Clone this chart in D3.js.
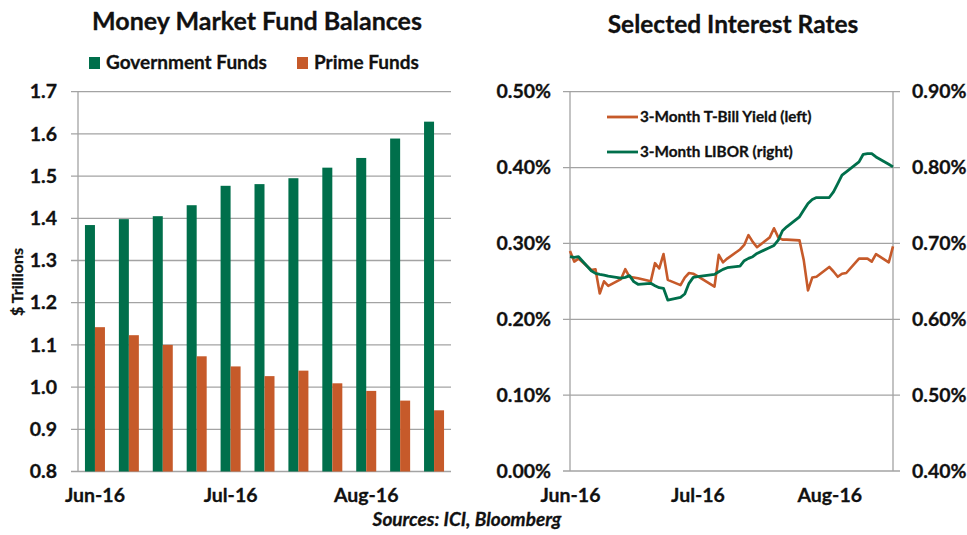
<!DOCTYPE html>
<html>
<head>
<meta charset="utf-8">
<script src="https://cdn.jsdelivr.net/npm/d3@7"></script>
<style>
  body { margin: 0; background: #fff; }
  text { font-family: Lato, "Liberation Sans", sans-serif; font-weight: bold; fill: #111; stroke: #111; stroke-width: 0.3px; }
</style>
</head>
<body>
<svg width="967" height="535"></svg>
<script>
// left chart: weekly fund balances, $ trillions
var weeks = ["w1", "w2", "w3", "w4", "w5", "w6", "w7", "w8", "w9", "w10", "w11"];
var weekLabels = { "w1": "Jun-16", "w5": "Jul-16", "w9": "Aug-16" };
var govFunds = [1.384, 1.398, 1.405, 1.431, 1.477, 1.481, 1.495, 1.520, 1.543, 1.589, 1.629];
var primeFunds = [1.142, 1.123, 1.100, 1.073, 1.049, 1.026, 1.039, 1.009, 0.991, 0.968, 0.945];
var balanceTicks = [0.8, 0.9, 1.0, 1.1, 1.2, 1.3, 1.4, 1.5, 1.6, 1.7];

// right chart: daily rates, percent
var rateDates = ["2016-06-01", "2016-06-02", "2016-06-03", "2016-06-06", "2016-06-07", "2016-06-08",
  "2016-06-09", "2016-06-10", "2016-06-13", "2016-06-14", "2016-06-15", "2016-06-16", "2016-06-17",
  "2016-06-20", "2016-06-21", "2016-06-22", "2016-06-23", "2016-06-24", "2016-06-27", "2016-06-28",
  "2016-06-29", "2016-06-30", "2016-07-01", "2016-07-05", "2016-07-06", "2016-07-07", "2016-07-08",
  "2016-07-11", "2016-07-12", "2016-07-13", "2016-07-14", "2016-07-15", "2016-07-18", "2016-07-19",
  "2016-07-20", "2016-07-21", "2016-07-22", "2016-07-25", "2016-07-26", "2016-07-27", "2016-07-28",
  "2016-07-29", "2016-08-01", "2016-08-02", "2016-08-03", "2016-08-04", "2016-08-05", "2016-08-08",
  "2016-08-09", "2016-08-10", "2016-08-11", "2016-08-12", "2016-08-15", "2016-08-16"];
var tbill = [0.290, 0.276, 0.280, 0.265, 0.266, 0.234, 0.250, 0.244, 0.253, 0.266, 0.256, 0.255, 0.254,
  0.250, 0.274, 0.267, 0.286, 0.252, 0.245, 0.255, 0.261, 0.260, 0.257, 0.243, 0.285, 0.275, 0.280,
  0.292, 0.298, 0.311, 0.302, 0.295, 0.308, 0.320, 0.308, 0.305, 0.305, 0.304, 0.278, 0.238, 0.255,
  0.256, 0.269, 0.263, 0.256, 0.260, 0.261, 0.280, 0.280, 0.280, 0.276, 0.286, 0.275, 0.296];
var libor = [0.6825, 0.6816, 0.6825, 0.6640, 0.6605, 0.6592, 0.6583, 0.6570, 0.6544, 0.6553, 0.6575,
  0.6496, 0.6461, 0.6474, 0.6443, 0.6417, 0.6408, 0.6254, 0.6289, 0.6333, 0.6474, 0.6553, 0.6561,
  0.6592, 0.6627, 0.6658, 0.6680, 0.6702, 0.6772, 0.6803, 0.6825, 0.6868, 0.6947, 0.6974, 0.7044,
  0.7167, 0.7219, 0.7351, 0.7439, 0.7526, 0.7579, 0.7605, 0.7605, 0.7680, 0.7789, 0.7899, 0.7943,
  0.8075, 0.8175, 0.8184, 0.8184, 0.8140, 0.8044, 0.8009];
var leftRateTicks = [0, 0.1, 0.2, 0.3, 0.4, 0.5];
var rightRateTicks = [0.4, 0.5, 0.6, 0.7, 0.8, 0.9];
var dateTicks = ["2016-06-01", "2016-07-01", "2016-08-01"];

var green = "#006f4b",
  orange = "#c65a2a",
  gridColor = "#a3a3a3",
  tickFont = "19.5px";

var svg = d3.select("svg");

// ---------- Money Market Fund Balances ----------
var m1 = { left: 78, right: 451, top: 91.7, bottom: 471.5 };

var x0 = d3.scaleBand().domain(weeks).range([m1.left, m1.right]).padding(0);
var yb = d3.scaleLinear().domain([0.8, 1.7]).range([m1.bottom, m1.top]);

var g1 = svg.append("g");

g1.selectAll(".grid")
  .data(balanceTicks)
  .enter().append("line")
  .attr("x1", m1.left - 7)
  .attr("x2", m1.right)
  .attr("y1", function(d) { return yb(d); })
  .attr("y2", function(d) { return yb(d); })
  .attr("stroke", gridColor)
  .attr("stroke-width", 1.3);

g1.append("line")
  .attr("x1", m1.left).attr("x2", m1.left)
  .attr("y1", m1.top).attr("y2", m1.bottom)
  .attr("stroke", gridColor)
  .attr("stroke-width", 1.3);

g1.append("g")
  .attr("transform", "translate(" + (m1.left - 21) + ",0)")
  .call(d3.axisLeft(yb).tickValues(balanceTicks).tickFormat(d3.format(".1f")).tickSize(0))
  .call(function(a) { a.select(".domain").remove(); })
  .selectAll("text")
  .attr("x", 0)
  .style("font-size", tickFont)
  .style("font-family", "Lato, sans-serif");

var barW = 10;
var bars = g1.selectAll(".week")
  .data(weeks)
  .enter().append("g");

bars.append("rect")
  .attr("x", function(d) { return x0(d) + x0.bandwidth() / 2 - barW; })
  .attr("width", barW)
  .attr("y", function(d, i) { return yb(govFunds[i]); })
  .attr("height", function(d, i) { return yb(0.8) - yb(govFunds[i]); })
  .attr("fill", green);

bars.append("rect")
  .attr("x", function(d) { return x0(d) + x0.bandwidth() / 2; })
  .attr("width", barW)
  .attr("y", function(d, i) { return yb(primeFunds[i]); })
  .attr("height", function(d, i) { return yb(0.8) - yb(primeFunds[i]); })
  .attr("fill", orange);

g1.append("g")
  .attr("transform", "translate(0," + (m1.bottom + 14) + ")")
  .call(d3.axisBottom(x0).tickValues(Object.keys(weekLabels)).tickFormat(function(d) { return weekLabels[d]; }).tickSize(0))
  .call(function(a) { a.select(".domain").remove(); })
  .selectAll("text")
  .style("font-size", tickFont)
  .style("font-family", "Lato, sans-serif");

g1.append("text")
  .attr("transform", "translate(23,282) rotate(-90)")
  .attr("text-anchor", "middle")
  .style("font-size", "16px")
  .text("$ Trillions");

g1.append("text")
  .attr("x", 257).attr("y", 30)
  .attr("text-anchor", "middle")
  .style("font-size", "25px")
  .text("Money Market Fund Balances");

var legend1 = [{ name: "Government Funds", color: green, x: 89 }, { name: "Prime Funds", color: orange, x: 297 }];
var lg1 = g1.selectAll(".legend").data(legend1).enter().append("g");
lg1.append("rect")
  .attr("x", function(d) { return d.x; })
  .attr("y", 57).attr("width", 11).attr("height", 12)
  .attr("fill", function(d) { return d.color; });
lg1.append("text")
  .attr("x", function(d) { return d.x + 17; })
  .attr("y", 69)
  .style("font-size", "19px")
  .text(function(d) { return d.name; });

// ---------- Selected Interest Rates ----------
var m2 = { left: 570, right: 893, top: 91.7, bottom: 471 };
var parse = d3.timeParse("%Y-%m-%d");

var xt = d3.scaleTime().domain([parse("2016-06-01"), parse("2016-08-16")]).range([m2.left, m2.right]);
var yl = d3.scaleLinear().domain([0, 0.5]).range([m2.bottom, m2.top]);
var yr = d3.scaleLinear().domain([0.4, 0.9]).range([m2.bottom, m2.top]);

var g2 = svg.append("g");

g2.selectAll(".grid")
  .data(leftRateTicks)
  .enter().append("line")
  .attr("x1", m2.left - 7)
  .attr("x2", m2.right + 7)
  .attr("y1", function(d) { return yl(d); })
  .attr("y2", function(d) { return yl(d); })
  .attr("stroke", gridColor)
  .attr("stroke-width", 1.3);

[m2.left, m2.right].forEach(function(px) {
  g2.append("line")
    .attr("x1", px).attr("x2", px)
    .attr("y1", m2.top).attr("y2", m2.bottom)
    .attr("stroke", gridColor)
    .attr("stroke-width", 1.3);
});

g2.append("g")
  .attr("transform", "translate(" + (m2.left - 19) + ",0)")
  .call(d3.axisLeft(yl).tickValues(leftRateTicks).tickFormat(function(d) { return d.toFixed(2) + "%"; }).tickSize(0))
  .call(function(a) { a.select(".domain").remove(); })
  .selectAll("text")
  .attr("x", 0)
  .style("font-size", tickFont)
  .style("font-family", "Lato, sans-serif");

g2.append("g")
  .attr("transform", "translate(" + (m2.right + 19) + ",0)")
  .call(d3.axisRight(yr).tickValues(rightRateTicks).tickFormat(function(d) { return d.toFixed(2) + "%"; }).tickSize(0))
  .call(function(a) { a.select(".domain").remove(); })
  .selectAll("text")
  .attr("x", 0)
  .style("font-size", tickFont)
  .style("font-family", "Lato, sans-serif");

g2.append("g")
  .attr("transform", "translate(0," + (m2.bottom + 14) + ")")
  .call(d3.axisBottom(xt).tickValues(dateTicks.map(parse)).tickFormat(d3.timeFormat("%b-%y")).tickSize(0))
  .call(function(a) { a.select(".domain").remove(); })
  .selectAll("text")
  .style("font-size", tickFont)
  .style("font-family", "Lato, sans-serif");

var tbillLine = d3.line()
  .x(function(d, i) { return xt(parse(rateDates[i])); })
  .y(function(d) { return yl(d); });
var liborLine = d3.line()
  .x(function(d, i) { return xt(parse(rateDates[i])); })
  .y(function(d) { return yr(d); });

g2.append("path")
  .datum(tbill)
  .attr("d", tbillLine)
  .attr("fill", "none")
  .attr("stroke", orange)
  .attr("stroke-width", 2.6)
  .attr("stroke-linejoin", "round");

g2.append("path")
  .datum(libor)
  .attr("d", liborLine)
  .attr("fill", "none")
  .attr("stroke", green)
  .attr("stroke-width", 2.8)
  .attr("stroke-linejoin", "round");

var legend2 = [{ name: "3-Month T-Bill Yield (left)", color: orange, y: 117 }, { name: "3-Month LIBOR (right)", color: green, y: 152 }];
var lg2 = g2.selectAll(".legend").data(legend2).enter().append("g");
lg2.append("line")
  .attr("x1", 607).attr("x2", 638)
  .attr("y1", function(d) { return d.y; })
  .attr("y2", function(d) { return d.y; })
  .attr("stroke", function(d) { return d.color; })
  .attr("stroke-width", 2.8);
lg2.append("text")
  .attr("x", 640)
  .attr("y", function(d) { return d.y + 5; })
  .style("font-size", "15.3px")
  .text(function(d) { return d.name; });

g2.append("text")
  .attr("x", 733).attr("y", 33)
  .attr("text-anchor", "middle")
  .style("font-size", "24.5px")
  .text("Selected Interest Rates");

svg.append("text")
  .attr("x", 467).attr("y", 526)
  .attr("text-anchor", "middle")
  .style("font-size", "19px")
  .style("font-style", "italic")
  .text("Sources: ICI, Bloomberg");
</script>
</body>
</html>
